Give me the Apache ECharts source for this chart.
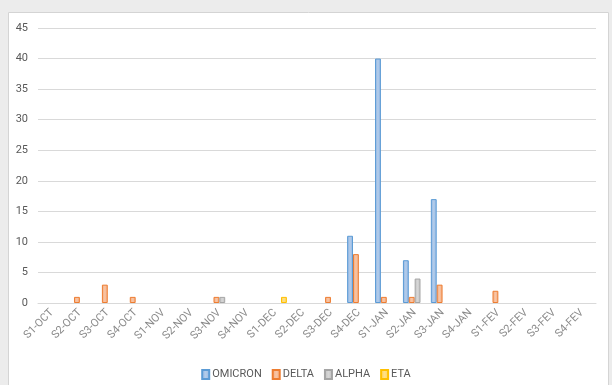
<!DOCTYPE html>
<html>
<head>
<meta charset="utf-8">
<script src="https://cdn.jsdelivr.net/npm/echarts@6/dist/echarts.min.js"></script>
<style>
html,body{margin:0;padding:0;background:#ececec;}
#chart{width:612px;height:385px;}
</style>
</head>
<body>
<div id="chart"></div>
<script>
var categories = ['S1-OCT','S2-OCT','S3-OCT','S4-OCT','S1-NOV','S2-NOV','S3-NOV','S4-NOV','S1-DEC','S2-DEC','S3-DEC','S4-DEC','S1-JAN','S2-JAN','S3-JAN','S4-JAN','S1-FEV','S2-FEV','S3-FEV','S4-FEV'];
var omicron = [null,null,null,null,null,null,null,null,null,null,null,11,40,7,17,null,null,null,null,null];
var delta   = [null,1,3,1,null,null,1,null,null,null,1,8,1,1,3,null,2,null,null,null];
var alpha   = [null,null,null,null,null,null,1,null,null,null,null,null,null,4,null,null,null,null,null,null];
var eta     = [null,null,null,null,null,null,null,null,1,null,null,null,null,null,null,null,null,null,null,null];
var yTicks = [0,5,10,15,20,25,30,35,40,45];

var FONT = 'Roboto, Liberation Sans, sans-serif';
var chart = echarts.init(document.getElementById('chart'), null, {renderer:'canvas'});
function grad(light, mid){
  return new echarts.graphic.LinearGradient(0,0,1,0,[
    {offset:0,color:mid},{offset:0.5,color:light},{offset:1,color:mid}
  ]);
}
function mk(name, data, fillLight, fillMid, border){
  return {
    name: name, type: 'bar', data: data,
    barGap: '0%', barCategoryGap: '16%',
    itemStyle: {color: grad(fillLight, fillMid), borderColor: border, borderWidth: 1},
    emphasis: {disabled: true}
  };
}
chart.setOption({
  animation: false,
  backgroundColor: '#ececec',
  graphic: [{
    type: 'rect', z: -10, silent: true,
    shape: {x: 8.5, y: 12.5, width: 600, height: 380},
    style: {fill: '#ffffff', stroke: '#d4d4d4', lineWidth: 1}
  }],
  grid: {left: 38, right: 16, top: 28, bottom: 82, containLabel: false},
  legend: {
    bottom: 0, left: 'center',
    itemWidth: 7, itemHeight: 9, itemGap: 10,
    icon: 'rect',
    textStyle: {color: '#595959', fontSize: 11, fontFamily: FONT, padding: [0,0,0,-2]},
    data: ['OMICRON','DELTA','ALPHA','ETA']
  },
  xAxis: {
    type: 'category', data: categories,
    axisLine: {lineStyle: {color: '#d9d9d9'}},
    axisTick: {show: false},
    axisLabel: {rotate: 45, interval: 0, color: '#8a8a8a', fontSize: 11, margin: 8,
      fontFamily: FONT}
  },
  yAxis: {
    type: 'value', min: yTicks[0], max: yTicks[yTicks.length-1], interval: 5,
    axisLine: {show: false}, axisTick: {show: false},
    splitLine: {lineStyle: {color: '#d9d9d9', width: 1}},
    axisLabel: {color: '#595959', fontSize: 11, margin: 10, fontFamily: FONT}
  },
  series: [
    mk('OMICRON', omicron, '#b4cdea', '#8fb4e3', '#5b9bd5'),
    mk('DELTA', delta, '#f8c6a5', '#f4a77c', '#ed7d31'),
    mk('ALPHA', alpha, '#d6d6d6', '#bfbfbf', '#a5a5a5'),
    mk('ETA', eta, '#ffe08a', '#ffd24d', '#ffc000')
  ]
});
</script>
</body>
</html>
